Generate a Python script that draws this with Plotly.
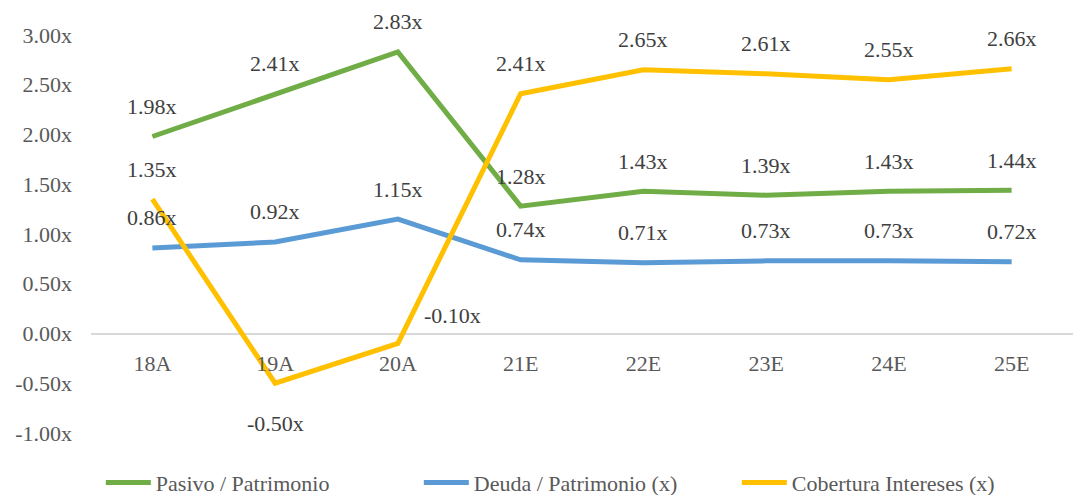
import plotly.graph_objects as go

categories = ["18A", "19A", "20A", "21E", "22E", "23E", "24E", "25E"]
pasivo = [1.98, 2.41, 2.83, 1.28, 1.43, 1.39, 1.43, 1.44]
deuda = [0.86, 0.92, 1.15, 0.74, 0.71, 0.73, 0.73, 0.72]
cobertura = [1.35, -0.50, -0.10, 2.41, 2.65, 2.61, 2.55, 2.66]
y_ticks = [-1.0, -0.5, 0.0, 0.5, 1.0, 1.5, 2.0, 2.5, 3.0]

series = [
    ("Pasivo / Patrimonio", pasivo, "#70AD47"),
    ("Deuda / Patrimonio (x)", deuda, "#5B9BD5"),
    ("Cobertura Intereses (x)", cobertura, "#FFC000"),
]

FONT = "Liberation Serif, Times New Roman, serif"
FS = 22
fig = go.Figure()
for name, vals, color in series:
    fig.add_trace(go.Scatter(x=categories, y=vals, name=name, mode="lines",
                             line=dict(color=color, width=5),
                             hoverinfo="skip"))

annotations = []
for name, vals, color in series:
    for c, v in zip(categories, vals):
        xs, ys = 0, 30
        if v <= -0.3:
            ys = -40
        elif v < 0:
            xs, ys = 55, 28
        annotations.append(dict(x=c, y=v, xref="x", yref="y", text=f"{v:.2f}x",
                                showarrow=False, xshift=xs, yshift=ys,
                                font=dict(family=FONT, size=FS, color="#404040")))

fig.update_layout(
    width=1075, height=495,
    margin=dict(l=91, r=2, t=35, b=62, autoexpand=False),
    paper_bgcolor="white", plot_bgcolor="white",
    font=dict(family=FONT, size=FS, color="#595959"),
    showlegend=True,
    legend=dict(orientation="h", x=0.01, xanchor="left", y=-0.125, yanchor="middle",
                font=dict(family=FONT, size=FS, color="#595959"),
                itemwidth=45, tracegroupgap=0, entrywidth=258, entrywidthmode="pixels"),
    annotations=annotations,
    xaxis=dict(type="category", range=[-0.5, 7.5], anchor="free", position=0.25,
               showgrid=False, showline=False, zeroline=False, ticks="",
               tickfont=dict(family=FONT, size=FS, color="#595959"),
               ticklabelstandoff=14, automargin=False),
    yaxis=dict(range=[-1, 3], tickvals=y_ticks,
               ticktext=[f"{t:.2f}x" for t in y_ticks],
               showgrid=False, zeroline=True, zerolinecolor="#D9D9D9", zerolinewidth=2,
               showline=False, ticks="", automargin=False,
               tickfont=dict(family=FONT, size=FS, color="#595959"),
               ticklabelstandoff=18),
)

fig.write_html("out.html", config={"displayModeBar": False},
               post_script="document.body.style.margin='0';document.body.style.overflow='hidden';")
